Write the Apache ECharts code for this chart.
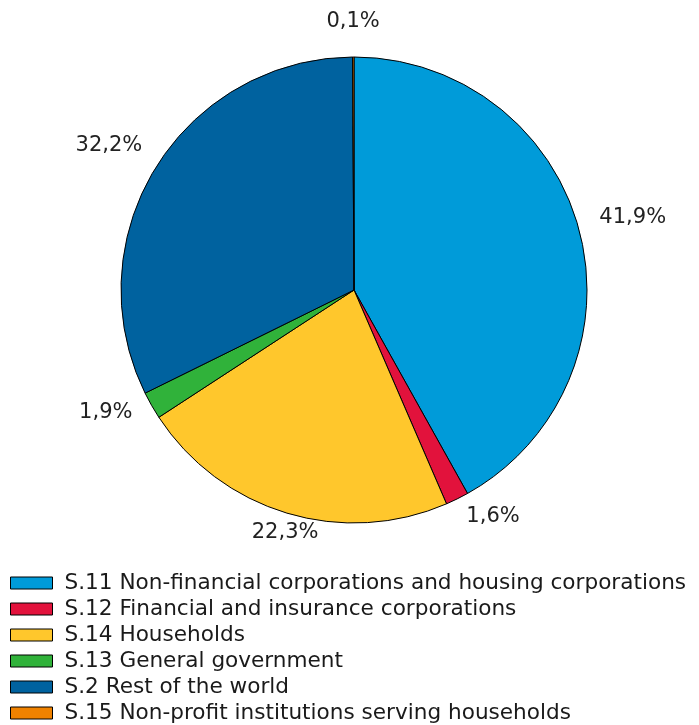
<!DOCTYPE html>
<html>
<head>
<meta charset="utf-8">
<script src="https://cdn.jsdelivr.net/npm/echarts@6/dist/echarts.min.js"></script>
<style>
html,body{margin:0;padding:0;background:#fff;}
#chart{width:699px;height:725px;}
</style>
</head>
<body>
<div id="chart"></div>
<script>
const categories = [
  "S.11 Non-financial corporations and housing corporations",
  "S.12 Financial and insurance corporations",
  "S.14 Households",
  "S.13 General government",
  "S.2 Rest of the world",
  "S.15 Non-profit institutions serving households"
];
const values = [41.9, 1.6, 22.3, 1.9, 32.2, 0.1];
const colors = ["#009bd9", "#e2123c", "#ffc72c", "#30b23a", "#00629f", "#f08200"];
const titleText = "Holders of quoted shares, percentage";

const chart = echarts.init(document.getElementById('chart'), null, {renderer: 'canvas'});
const FONT = 'DejaVu Sans';

function placeLabel(p) {
  const data = chart.getModel().getSeriesByIndex(0).getData();
  const lay = data.getItemLayout(p.dataIndex);
  if (!lay) return {};
  const mid = (lay.startAngle + lay.endAngle) / 2;
  const ux = Math.cos(mid), uy = Math.sin(mid);
  const rx = lay.r + 55, ry = lay.r + 28;
  const shift = uy > 0 ? 16 * Math.pow(uy, 3) : 0;
  return {x: lay.cx + rx * ux + shift, y: lay.cy + ry * uy - 7, align: 'center', verticalAlign: 'middle'};
}

chart.setOption({
  animation: false,
  backgroundColor: '#ffffff',
  title: {
    text: titleText,
    left: 'center',
    top: -28,
    textStyle: {fontFamily: FONT, fontSize: 22, fontWeight: 'bold', color: '#000'}
  },
  legend: {
    orient: 'vertical',
    left: 10,
    top: 572,
    height: 200,
    padding: 0,
    itemWidth: 42,
    itemHeight: 12,
    itemGap: 4,
    icon: 'rect',
    selectedMode: false,
    itemStyle: {borderColor: '#000', borderWidth: 1},
    textStyle: {fontFamily: FONT, fontSize: 21.6, lineHeight: 22, color: '#1a1a1a', padding: [0, 0, 0, 7]},
    data: categories
  },
  series: [{
    type: 'pie',
    center: [354, 290],
    radius: 233,
    startAngle: 90,
    clockwise: true,
    avoidLabelOverlap: false,
    minAngle: 0,
    itemStyle: {borderColor: '#000', borderWidth: 1},
    label: {
      show: true,
      position: 'outside',
      fontFamily: FONT,
      fontSize: 21,
      color: '#222',
      formatter: function (p) { return p.value.toFixed(1).replace('.', ',') + '%'; }
    },
    labelLine: {show: false, length: 10, length2: 0},
    labelLayout: placeLabel,
    emphasis: {disabled: true},
    data: categories.map((c, i) => ({name: c, value: values[i], itemStyle: {color: colors[i]}}))
  }]
});
</script>
</body>
</html>
